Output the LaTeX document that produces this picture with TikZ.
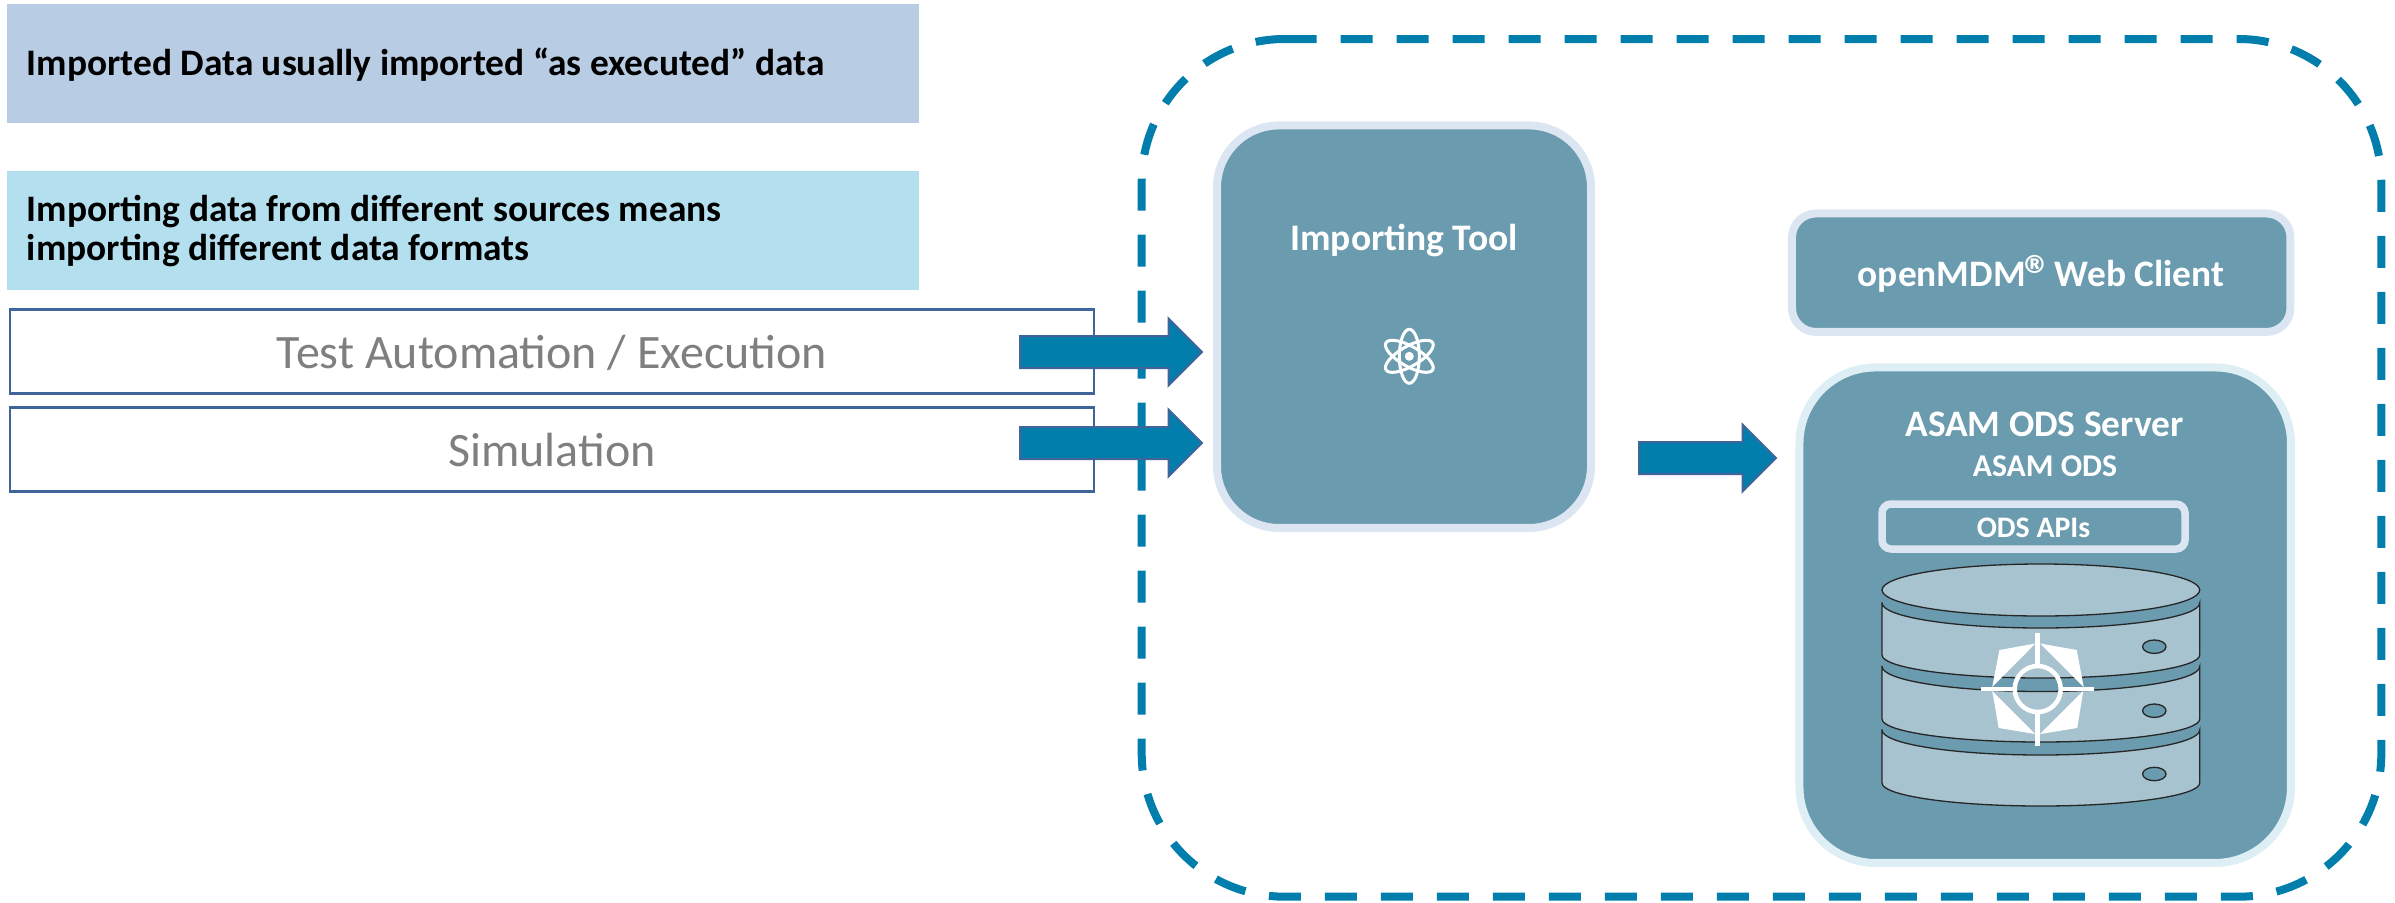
\documentclass[tikz,border=0pt]{standalone}
\usepackage{fontspec}
\setmainfont{Carlito}
\usetikzlibrary{shapes.arrows}
\definecolor{tealfill}{HTML}{6B9BAE}
\definecolor{paleborder}{HTML}{DCE6F2}
\definecolor{asamborder}{HTML}{DDEEF4}
\definecolor{blockblue}{HTML}{027EAD}
\definecolor{arrowedge}{HTML}{41659A}
\definecolor{diskfill}{HTML}{A7C3CF}
\definecolor{banda}{HTML}{B8CCE4}
\definecolor{bandb}{HTML}{B3DFEF}
\definecolor{graytext}{HTML}{7F7F7F}
\tikzset{
  pxtext/.style={inner sep=0pt,outer sep=0pt,anchor=base},
  band/.style={inner sep=0pt,outer sep=0pt,minimum width=911.6pt,minimum height=119pt,anchor=north west},
  sourcebox/.style={draw=arrowedge,line width=2.5pt,fill=white,inner sep=0pt,outer sep=0pt,minimum width=1084pt,minimum height=84pt,anchor=north west},
  toolbox/.style={draw=#1,fill=tealfill,line width=8pt,inner sep=0pt,outer sep=0pt,anchor=center},
  toolbox/.default=paleborder,
  blockarrow/.style={single arrow,draw=arrowedge,fill=blockblue,line width=2pt,inner xsep=0pt,inner ysep=15pt,outer sep=0pt,
    single arrow head extend=17.5pt,single arrow tip angle=90,single arrow head indent=0pt,
    minimum width=65pt,anchor=tip},
  disk/.style={fill=diskfill,draw=black!85,line width=1.3pt},
  lamp/.style={fill=tealfill,draw=black!85,line width=1.3pt},
}
\begin{document}
\begin{tikzpicture}[x=1pt,y=-1pt]
\useasboundingbox (0,0) rectangle (2395,902);
% text bands
\node[band,fill=banda] (bandA) at (7,4) {};
\node[band,fill=bandb] (bandB) at (7,171) {};
\node[pxtext,anchor=base west,font=\fontsize{37.4}{40}\selectfont\bfseries] (bandAt) at (27,75.5) {Imported Data usually imported “as executed” data};
\node[pxtext,anchor=base west,font=\fontsize{37.4}{40}\selectfont\bfseries] (bandBa) at (27,221) {Importing data from different sources means};
\node[pxtext,anchor=base west,font=\fontsize{37.4}{40}\selectfont\bfseries] (bandBb) at (27,260.5) {importing different data formats};
% sources
\node[sourcebox] (src1) at (10,309.5) {};
\node[sourcebox] (src2) at (10,407.5) {};
\node[pxtext,text=graytext,font=\fontsize{48}{50}\selectfont] (src1t) at (552,368.2) {Test Automation / Execution};
\node[pxtext,text=graytext,font=\fontsize{48}{50}\selectfont] (src2t) at (552,466.5) {Simulation};
% dashed frame
\draw[draw=blockblue,line width=8pt,dash pattern=on 32pt off 24pt,rounded corners=143pt]
  (1284.7,39) -- (2381.3,39) -- (2381.3,896.7) -- (1141.7,896.7) -- (1141.7,39) -- (1284.7,39);
% importing tool
\node[toolbox,rounded corners=62pt,minimum width=374pt,minimum height=402.5pt] (tool) at (1404,326.7) {};
\node[pxtext,text=white,font=\fontsize{37.5}{40}\selectfont\bfseries] (toolt) at (1404,250.5) {Importing Tool};
\begin{scope}[shift={(1409.3,356.3)},white,line width=3pt]
  \draw[rotate=90] (0,0) ellipse [x radius=27,y radius=10];
  \draw[rotate=30] (0,0) ellipse [x radius=27,y radius=10];
  \draw[rotate=-30] (0,0) ellipse [x radius=27,y radius=10];
  \fill (0,0) circle [radius=4.5];
\end{scope}
% web client
\node[toolbox,rounded corners=24pt,minimum width=498.5pt,minimum height=118.5pt] (web) at (2041.2,272.7) {};
\node[pxtext,text=white,font=\fontsize{37.4}{40}\selectfont\bfseries] (webt) at (2041,286) {openMDM\kern-1pt\raisebox{-8pt}{\fontsize{56}{56}\selectfont ®}\kern-7pt{} Web Client};
% asam server
\node[toolbox=asamborder,rounded corners=76pt,minimum width=491.5pt,minimum height=495.5pt] (asam) at (2045.2,615.2) {};
\node[pxtext,text=white,font=\fontsize{37.4}{40}\selectfont\bfseries] (asamt) at (2044.5,436) {ASAM ODS Server};
\node[pxtext,text=white,font=\fontsize{31.7}{34}\selectfont\bfseries] (asams) at (2045,476.5) {ASAM ODS};
\node[toolbox,rounded corners=9pt,line width=7.5pt,minimum width=303pt,minimum height=45pt] (api) at (2033.5,526.5) {};
\node[pxtext,text=white,font=\fontsize{29.8}{32}\selectfont\bfseries] (apit) at (2033.5,537) {ODS APIs};
% database
\draw[disk] (2040.85,590) ellipse [x radius=158.85,y radius=26];
\foreach \yt/\yb in {603/655,666.5/719,730/783}{
  \draw[disk] (1882,\yt) -- (1882,\yb) arc[start angle=180,end angle=0,x radius=158.85,y radius=23]
     -- (2199.7,\yt) arc[start angle=0,end angle=180,x radius=158.85,y radius=25] -- cycle;
}
\foreach \yl in {646.7,710.7,774}{
  \draw[lamp] (2154.3,\yl) ellipse [x radius=11.7,y radius=6.7];
}
% ODS emblem
\begin{scope}[shift={(2037.7,689)}]
  \fill[white] (2.3,-45.5) -- (39,-39) -- (46,-2) -- cycle;
  \fill[white] (-2.3,-45.5) -- (-38.3,-39) -- (-45.5,-2) -- cycle;
  \fill[white] (-45.5,2) -- (-39,39) -- (-2.5,45) -- cycle;
  \fill[white] (45.5,2) -- (39.5,39) -- (2.5,45) -- cycle;
  \draw[white,line width=4.5pt] (0,0) circle [radius=23];
  \draw[white,line width=4.5pt] (0,-56.3) -- (0,-23) (0,23) -- (0,57) (-56.7,0) -- (-23,0) (23,0) -- (56.3,0);
\end{scope}
% block arrows
\node[blockarrow,minimum height=182pt] (arrA) at (1202,352) {};
\node[blockarrow,minimum height=182pt] (arrB) at (1202,443) {};
\node[blockarrow,minimum height=137pt] (arrC) at (1776,458) {};
\end{tikzpicture}
\end{document}
